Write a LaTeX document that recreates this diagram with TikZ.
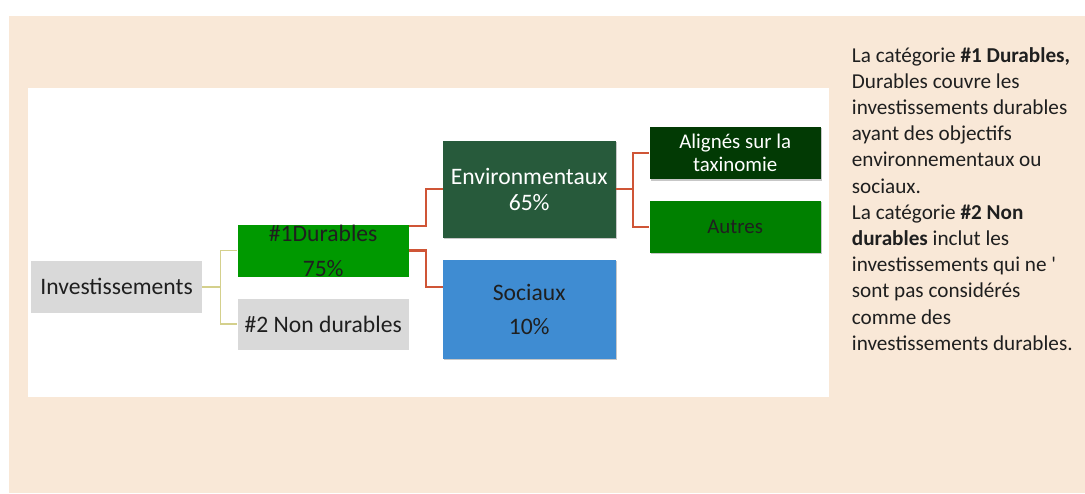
\documentclass[tikz,border=0pt]{standalone}
\usepackage{fontspec}
\setmainfont{Carlito}
\newfontfamily\rawfont{Carlito}
\usetikzlibrary{shadows,calc}
\definecolor{beige}{HTML}{F9E8D7}
\definecolor{boxgray}{HTML}{D9D9D9}
\definecolor{durgreen}{HTML}{009900}
\definecolor{envgreen}{HTML}{275A3B}
\definecolor{socblue}{HTML}{3F8CD2}
\definecolor{aligreen}{HTML}{023A04}
\definecolor{autgreen}{HTML}{008000}
\definecolor{redline}{HTML}{CF5536}
\definecolor{oliveline}{HTML}{D4D08C}
\definecolor{txtdark}{HTML}{1F1F1F}
\begin{document}
\begin{tikzpicture}[x=1pt,y=-1pt,
  box/.style={rectangle, inner sep=0pt, align=center, anchor=north west, draw=none, text=txtdark},
  shade box/.style={box, drop shadow={shadow xshift=1.5pt, shadow yshift=-1.5pt, fill=black, opacity=0.22}},
  bigtxt/.style={font=\fontsize{23.6}{28}\selectfont},
  smalltxt/.style={font=\fontsize{20.9}{22.7}\selectfont},
  redconn/.style={draw=redline, line width=2.4pt},
  oliveconn/.style={draw=oliveline, line width=1.8pt}]
\useasboundingbox (0,0) rectangle (1085,493);
\fill[white] (0,0) rectangle (1085,493);
\fill[beige] (9,16) rectangle (1085,493);
\fill[white] (28,88) rectangle (829,397);

\node[box, bigtxt, fill=boxgray, minimum width=171.3pt, minimum height=52pt] (inv) at (30.7,260.7) {Investissements};
\node[box, fill=durgreen, minimum width=171.4pt, minimum height=52pt, font=\fontsize{23.6}{35}\selectfont] (dur) at (237.3,224.3) {\#1Durables\\75\%};
\node[box, bigtxt, fill=boxgray, minimum width=171.4pt, minimum height=51.7pt] (nd) at (237.3,298.3) {\#2 Non durables};
\node[shade box, fill=envgreen, text=white, minimum width=172.6pt, minimum height=96.6pt, font=\fontsize{23.6}{26}\selectfont] (env) at (442.7,140.7) {Environmentaux\\65\%};
\node[shade box, fill=socblue, minimum width=172.6pt, minimum height=99.4pt, font=\fontsize{23.6}{34}\selectfont] (soc) at (442.7,259.3) {Sociaux\\10\%};
\node[shade box, smalltxt, fill=aligreen, text=white, minimum width=171.4pt, minimum height=52.3pt] (ali) at (649.3,126.7) {Alignés sur la\\taxinomie};
\node[shade box, smalltxt, fill=autgreen, minimum width=171.4pt, minimum height=51.6pt] (aut) at (649.3,200.7) {Autres};

\draw[oliveconn] (inv.east) -- ++(18,0) coordinate (j1) |- (dur.west);
\draw[oliveconn] (j1) |- (nd.west);
\draw[redconn] ([yshift=-1.7pt]dur.north east) -- ++(17,0) |- (env.west);
\draw[redconn] (dur.east) -- ++(17,0) |- ($(soc.north west)!0.28!(soc.south west)$);
\draw[redconn] (env.east) -- ++(17.4,0) coordinate (j2) |- (ali.west);
\draw[redconn] (j2) |- (aut.west);

\node[anchor=north west, align=left, inner sep=0pt, text=txtdark, font=\fontsize{21.2}{26.2}\selectfont] (desc) at (851.7,47) {La catégorie \textbf{\#1 Durables,}\\
Durables couvre les\\
investissements durables\\
ayant des objectifs\\
environnementaux ou\\
sociaux.\\
La catégorie \textbf{\#2 Non}\\
\textbf{durables} inclut les\\
investissements qui ne {\rawfont'}\\
sont pas considérés\\
comme des\\
investissements durables.};
\end{tikzpicture}
\end{document}
